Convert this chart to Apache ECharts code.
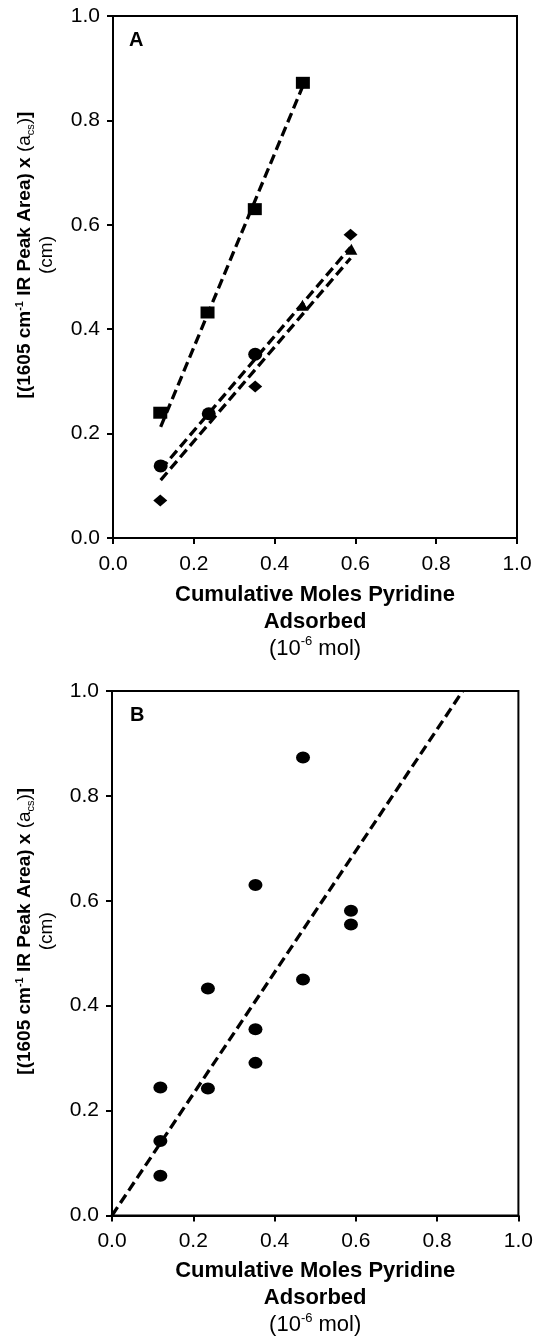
<!DOCTYPE html>
<html><head><meta charset="utf-8">
<script src="https://cdn.jsdelivr.net/npm/echarts@6/dist/echarts.min.js"></script>
<style>html,body{margin:0;padding:0;background:#fff}#c{width:536px;height:1337px}</style>
</head><body><div id="c"></div>
<script>
// ---------- data ----------
const tickLabels = ['0.0', '0.2', '0.4', '0.6', '0.8', '1.0'];

// Panel A
const sqX = [0.117, 0.234, 0.351, 0.470];
const sqY = [0.240, 0.432, 0.630, 0.872];
const ciX = [0.118, 0.237, 0.352];
const ciY = [0.138, 0.238, 0.352];
const diX = [0.117, 0.352, 0.588];
const diY = [0.072, 0.290, 0.581];
const trX = [0.469, 0.590];
const trY = [0.446, 0.553];
// dashed fit lines in A (end points)
const fitSqX = [0.118, 0.470];
const fitSqY = [0.213, 0.866];
const fit2X = [0.118, 0.588];
const fit2Y = [0.131, 0.557];
const fit3X = [0.118, 0.588];
const fit3Y = [0.111, 0.536];

// Panel B
const bX = [0.470, 0.353, 0.588, 0.588, 0.470, 0.236, 0.353, 0.353, 0.119, 0.236, 0.119, 0.119];
const bY = [0.873, 0.630, 0.581, 0.555, 0.450, 0.433, 0.355, 0.291, 0.244, 0.242, 0.142, 0.076];
const fitBX = [0.0, 0.863];
const fitBY = [0.0, 1.0];

// ---------- helpers ----------
const FONT = "'Liberation Sans', Arial, sans-serif";
const pts = (xs, ys) => xs.map((x, i) => [x, ys[i]]);
const ELLIPSE = 'path://M-1,0A1,1,0,1,0,1,0A1,1,0,1,0,-1,0Z';

const xName = '{b|Cumulative Moles Pyridine}\n{b|Adsorbed}\n{r|(10}{sup|-6}{r| mol)}';
const yName = '{b|[(1605 cm}{bsup|-1}{b| IR Peak Area) x }{r|(a}{rsub|cs}{r|)}{b|]}\n{r|(cm)}';

function xAxisCfg(gi, margin, gap) {
  return {
    gridIndex: gi, type: 'value', min: 0, max: 1, interval: 0.2,
    axisLine: { show: true, onZero: false, lineStyle: { color: '#000', width: 2 } },
    axisTick: { show: true, inside: false, length: 6, lineStyle: { color: '#000', width: 2 } },
    splitLine: { show: false },
    axisLabel: { color: '#000', fontFamily: FONT, fontSize: 21, margin: margin,
      formatter: v => tickLabels[Math.round(v / 0.2)] },
    name: xName, nameLocation: 'middle', nameGap: gap,
    nameTextStyle: {
      color: '#000', fontFamily: FONT,
      rich: {
        b: { fontFamily: FONT, fontSize: 22, fontWeight: 'bold', lineHeight: 27, color: '#000' },
        r: { fontFamily: FONT, fontSize: 22, lineHeight: 27, color: '#000' },
        sup: { fontFamily: FONT, fontSize: 13, lineHeight: 19, verticalAlign: 'top', color: '#000' }
      }
    }
  };
}
function yAxisCfg(gi, gap, shift) {
  return {
    gridIndex: gi, type: 'value', min: 0, max: 1, interval: 0.2,
    axisLine: { show: true, onZero: false, lineStyle: { color: '#000', width: 2 } },
    axisTick: { show: true, inside: false, length: 6, lineStyle: { color: '#000', width: 2 } },
    splitLine: { show: false },
    axisLabel: { color: '#000', fontFamily: FONT, fontSize: 21, margin: 13,
      formatter: v => tickLabels[Math.round(v / 0.2)] },
    name: yName, nameLocation: 'middle', nameGap: gap, nameRotate: 90,
    nameTextStyle: {
      color: '#000', fontFamily: FONT, padding: [0, 0, 0, shift],
      rich: {
        b: { fontFamily: FONT, fontSize: 19, fontWeight: 'bold', lineHeight: 22, color: '#000' },
        r: { fontFamily: FONT, fontSize: 19, lineHeight: 22, color: '#000' },
        bsup: { fontFamily: FONT, fontSize: 11, fontWeight: 'bold', lineHeight: 14, verticalAlign: 'top', color: '#000' },
        rsub: { fontFamily: FONT, fontSize: 11, lineHeight: 14, verticalAlign: 'bottom', color: '#000' }
      }
    }
  };
}
function fitLine(xs, ys, gi) {
  return {
    type: 'line', xAxisIndex: gi, yAxisIndex: gi, data: pts(xs, ys),
    symbol: 'none', silent: true, animation: false, z: 1,
    lineStyle: { color: '#000', width: 3.3, type: [10, 5], cap: 'butt' }
  };
}
function marks(xs, ys, gi, symbol, size) {
  return {
    type: 'scatter', xAxisIndex: gi, yAxisIndex: gi, data: pts(xs, ys),
    symbol: symbol, symbolSize: size, animation: false, z: 3,
    itemStyle: { color: '#000', opacity: 1 }
  };
}

const chart = echarts.init(document.getElementById('c'), null, { renderer: 'canvas' });
chart.setOption({
  backgroundColor: '#fff',
  animation: false,
  grid: [
    { left: 113, top: 16, width: 404, height: 522, show: true, borderColor: '#000', borderWidth: 2, backgroundColor: 'transparent' },
    { left: 112, top: 691, width: 407, height: 528, show: true, borderColor: '#000', borderWidth: 2, backgroundColor: 'transparent' }
  ],
  xAxis: [xAxisCfg(0, 16, 43), xAxisCfg(1, 15, 42)],
  yAxis: [yAxisCfg(0, 55, 44), yAxisCfg(1, 54, 44)],
  graphic: [
    { type: 'text', left: 129, top: 30, style: { text: 'A', font: 'bold 20px ' + FONT, fill: '#000' } },
    { type: 'text', left: 130, top: 705, style: { text: 'B', font: 'bold 20px ' + FONT, fill: '#000' } }
  ],
  series: [
    fitLine(fitSqX, fitSqY, 0),
    fitLine(fit2X, fit2Y, 0),
    fitLine(fit3X, fit3Y, 0),
    marks(sqX, sqY, 0, 'rect', [14, 12]),
    marks(ciX, ciY, 0, ELLIPSE, [14, 13]),
    marks(diX, diY, 0, 'diamond', [14, 12]),
    marks(trX, trY, 0, 'triangle', [12, 11]),
    fitLine(fitBX, fitBY, 1),
    marks(bX, bY, 1, ELLIPSE, [14, 12])
  ]
});
</script>
</body></html>
